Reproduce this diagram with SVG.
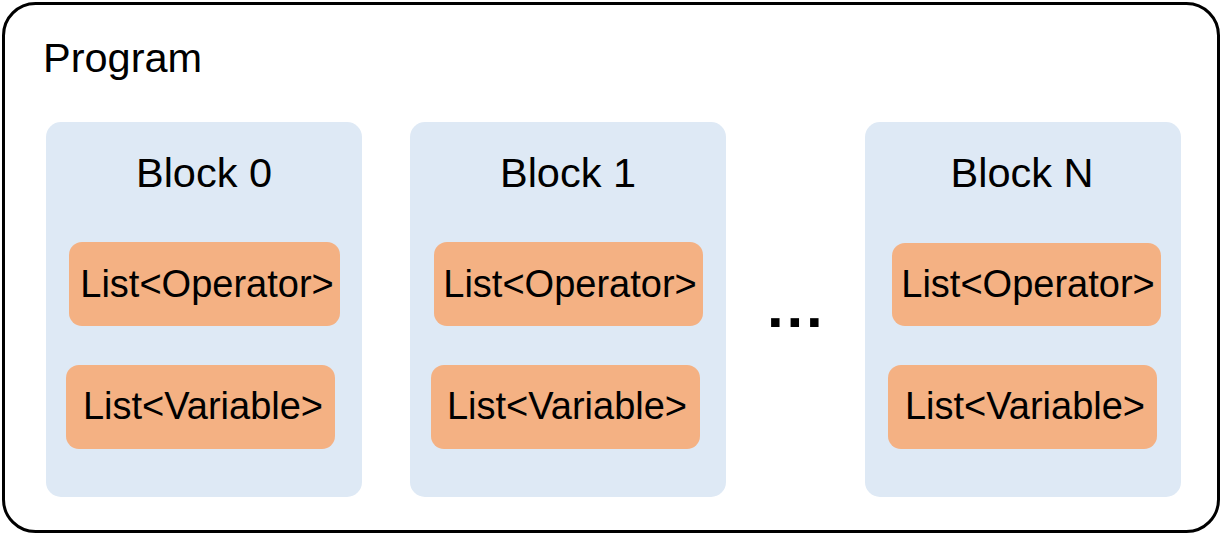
<svg xmlns="http://www.w3.org/2000/svg" width="1222" height="535" viewBox="0 0 1222 535">
<style>
.block{fill:#dee9f5;}
.list{fill:#f4b183;}
text{font-family:"Liberation Sans",Arial,sans-serif;fill:#000;}
.t-prog{font-size:41.5px;}
.t-block{font-size:41.5px;text-anchor:middle;}
.t-list{font-size:38px;text-anchor:middle;}
.dots{font-size:60px;font-weight:bold;letter-spacing:2.8px;}
</style>
<g id="program">
<rect x="3.5" y="3.5" width="1215" height="528" rx="32" ry="32" fill="#fff" stroke="#000" stroke-width="3"/>
<text class="t-prog" x="43" y="72">Program</text>
</g>
<g id="block0">
<rect class="block" x="46" y="122" width="316" height="375" rx="15"/>
<text class="t-block" x="204" y="187">Block 0</text>
</g>
<g id="block0-operators">
<rect class="list" x="69" y="242" width="271" height="84" rx="13"/>
<text class="t-list" x="207" y="297">List&lt;Operator&gt;</text>
</g>
<g id="block0-variables">
<rect class="list" x="66" y="365" width="269" height="84" rx="13"/>
<text class="t-list" x="203" y="419">List&lt;Variable&gt;</text>
</g>
<g id="block1">
<rect class="block" x="410" y="122" width="316" height="375" rx="15"/>
<text class="t-block" x="568" y="187">Block 1</text>
</g>
<g id="block1-operators">
<rect class="list" x="434" y="242" width="269" height="84" rx="13"/>
<text class="t-list" x="570" y="297">List&lt;Operator&gt;</text>
</g>
<g id="block1-variables">
<rect class="list" x="431" y="365" width="269" height="84" rx="13"/>
<text class="t-list" x="567" y="419">List&lt;Variable&gt;</text>
</g>
<g id="ellipsis">
<text class="dots" x="767" y="327">...</text>
</g>
<g id="blockN">
<rect class="block" x="865" y="122" width="316" height="375" rx="15"/>
<text class="t-block" x="1022" y="187">Block N</text>
</g>
<g id="blockN-operators">
<rect class="list" x="892" y="243" width="269" height="83" rx="13"/>
<text class="t-list" x="1028" y="297">List&lt;Operator&gt;</text>
</g>
<g id="blockN-variables">
<rect class="list" x="888" y="365" width="269" height="84" rx="13"/>
<text class="t-list" x="1025" y="419">List&lt;Variable&gt;</text>
</g>
<g id="connectors"></g>
</svg>
